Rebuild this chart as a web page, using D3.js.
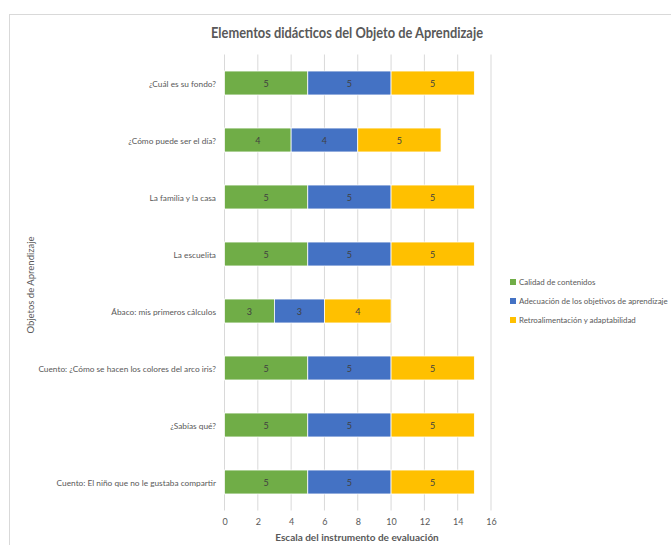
<!DOCTYPE html>
<html><head><meta charset="utf-8">
<script src="https://cdn.jsdelivr.net/npm/d3@7"></script>
<style>body{margin:0;background:#fff;} text{font-family:Lato,"Open Sans",sans-serif;}</style>
</head><body><svg id="c" width="671" height="545"></svg>
<script>
const categories = ["¿Cuál es su fondo?","¿Cómo puede ser el día?","La familia y la casa","La escuelita","Ábaco: mis primeros cálculos","Cuento: ¿Cómo se hacen los colores del arco iris?","¿Sabías qué?","Cuento: El niño que no le gustaba compartir"];
const seriesNames = ["Calidad de contenidos","Adecuación de los objetivos de aprendizaje","Retroalimentación y adaptabilidad"];
const calidad = [5,4,5,5,3,5,5,5];
const adecuacion = [5,4,5,5,3,5,5,5];
const retro = [5,5,5,5,4,5,5,5];
const xTicks = [0,2,4,6,8,10,12,14,16];
const colors = ["#70AD47","#4472C4","#FFC000"];

const svg = d3.select("#c");
svg.append("rect").attr("x",9.5).attr("y",14.5).attr("width",700).attr("height",600).attr("fill","#fff").attr("stroke","#D9D9D9");

const x = d3.scaleLinear().domain([0,16]).range([224.5,491]);
const y = d3.scaleBand().domain(categories).range([54.5,510.5]).paddingInner(0.58).paddingOuter(0.29);

svg.append("text").attr("x",347).attr("y",38).attr("text-anchor","middle").attr("font-size",15).attr("font-weight","bold")
  .attr("textLength",272).attr("lengthAdjust","spacingAndGlyphs").attr("fill","#595959").text("Elementos didácticos del Objeto de Aprendizaje");

// gridlines
svg.append("g").selectAll("line").data(xTicks).join("line")
  .attr("x1",d=>x(d)).attr("x2",d=>x(d)).attr("y1",54.5).attr("y2",510.5)
  .attr("stroke","#D9D9D9").attr("stroke-width",1);

const series = [calidad, adecuacion, retro];
const stacked = categories.map((c,i)=>{let s=0;return series.map((arr,k)=>{const r={c,k,v:arr[i],x0:s,x1:s+arr[i]};s+=arr[i];return r;});}).flat();

svg.append("g").selectAll("rect").data(stacked).join("rect")
  .attr("x",d=>x(d.x0)).attr("width",d=>x(d.x1)-x(d.x0))
  .attr("y",d=>y(d.c)).attr("height",y.bandwidth())
  .attr("fill",d=>colors[d.k]).attr("stroke","#fff").attr("stroke-width",0.75);

svg.append("g").selectAll("text").data(stacked).join("text")
  .attr("x",d=>x((d.x0+d.x1)/2)).attr("y",d=>y(d.c)+y.bandwidth()/2+3.5)
  .attr("text-anchor","middle").attr("font-size",9).attr("fill","#404040").text(d=>d.v);

// category labels
svg.append("g").selectAll("text").data(categories).join("text")
  .attr("x",216).attr("y",d=>y(d)+y.bandwidth()/2+3.5).attr("text-anchor","end")
  .attr("font-size",8.3).attr("fill","#595959").text(d=>d);

// x axis tick labels
const xa = svg.append("g").attr("transform","translate(0,512)").call(d3.axisBottom(x).tickValues(xTicks).tickSize(0).tickPadding(7));
xa.select(".domain").remove();
xa.selectAll("text").attr("font-size",9).attr("fill","#595959").attr("font-family","Lato, sans-serif");

svg.append("text").attr("x",357).attr("y",541).attr("text-anchor","middle").attr("font-size",10).attr("font-weight","bold").attr("fill","#595959").text("Escala del instrumento de evaluación");

svg.append("text").attr("transform","translate(34,285) rotate(-90)").attr("text-anchor","middle").attr("font-size",9.5).attr("fill","#595959").text("Objetos de  Aprendizaje");

// legend
const lg = svg.append("g").selectAll("g").data(seriesNames).join("g").attr("transform",(d,i)=>`translate(510,${282+i*19})`);
lg.append("rect").attr("x",0).attr("y",-3).attr("width",6).attr("height",6).attr("fill",(d,i)=>colors[i]);
lg.append("text").attr("x",9).attr("y",3).attr("font-size",7.9).attr("fill","#595959").text(d=>d);
</script></body></html>
